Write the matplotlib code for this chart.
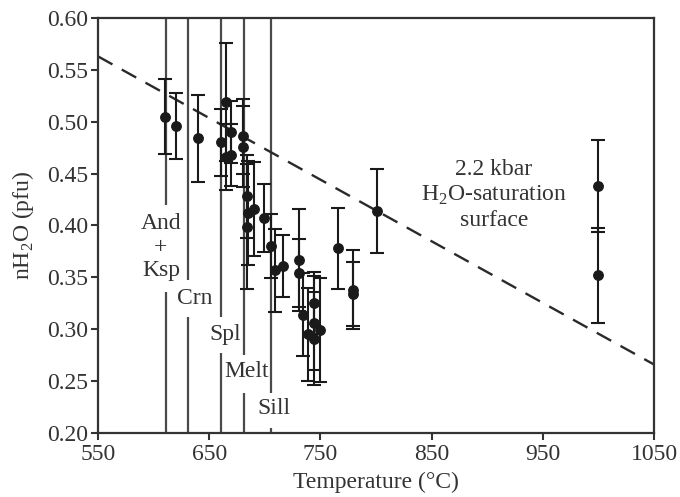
import matplotlib
matplotlib.use("Agg")
import matplotlib.pyplot as plt

plt.rcParams['font.family'] = ['Liberation Serif', 'DejaVu Serif']
plt.rcParams['mathtext.fontset'] = 'custom'
plt.rcParams['mathtext.rm'] = 'Liberation Serif'

# ---- data ----
temps = [610, 620, 639.5, 665, 660.5, 665, 670, 670, 680, 680, 684, 685, 690, 684,
         699, 706, 709, 716, 731, 731, 734, 739, 744, 744, 744, 750, 766, 779, 779,
         801, 1000, 1000]
nh2o = [0.505, 0.496, 0.484, 0.519, 0.480, 0.466, 0.490, 0.468, 0.486, 0.476, 0.428,
        0.412, 0.416, 0.399, 0.407, 0.380, 0.357, 0.361, 0.367, 0.354, 0.314, 0.295,
        0.325, 0.306, 0.291, 0.299, 0.378, 0.338, 0.334, 0.414, 0.438, 0.352]
errors = [0.036, 0.032, 0.042, 0.057, 0.0325, 0.032, 0.030, 0.030, 0.036, 0.039, 0.040,
          0.050, 0.045, 0.060, 0.033, 0.031, 0.040, 0.030, 0.049, 0.033, 0.040, 0.045,
          0.030, 0.045, 0.045, 0.050, 0.039, 0.038, 0.031, 0.0405, 0.044, 0.046]

# phase boundaries (temperature) and their labels
boundary_temps = [611, 630.5, 661, 681, 706]
boundary_labels = ['And\n+\nKsp', 'Crn', 'Spl', 'Melt', 'Sill']
label_temps = [606.6, 637.2, 664.2, 683.7, 708.3]
label_vals = [0.379, 0.330, 0.2945, 0.2588, 0.224]
gap_low = [0.336, 0.312, 0.277, 0.2386, 0.205]
gap_high = [0.420, 0.3475, 0.312, 0.275, 0.2386]

# H2O-saturation surface (dashed line)
sat_temps = [550, 1050]
sat_vals = [0.563, 0.266]

xticks = [550, 650, 750, 850, 950, 1050]
yticks = [0.20, 0.25, 0.30, 0.35, 0.40, 0.45, 0.50, 0.55, 0.60]

# ---- plot ----
fig = plt.figure(figsize=(6.8, 4.97), dpi=100)
ax = fig.add_axes([0.1441, 0.1288, 0.8177, 0.835])
ax.set_xlim(550, 1050)
ax.set_ylim(0.20, 0.60)

line_col = '#4a4a4a'
txt_col = '#333333'
fs = 17

for t, lo, hi in zip(boundary_temps, gap_low, gap_high):
    ax.vlines(t, hi, 0.60, color=line_col, lw=1.6, zorder=1)
    ax.vlines(t, 0.20, lo, color=line_col, lw=1.6, zorder=1)

for lab, lt, lv in zip(boundary_labels, label_temps, label_vals):
    ax.text(lt, lv, lab, ha='center', va='center', fontsize=fs, color=txt_col,
            linespacing=1.15, zorder=2)

ax.plot(sat_temps, sat_vals, color='#2a2a2a', lw=1.7, dashes=(7, 4.5), zorder=2)

ax.errorbar(temps, nh2o, yerr=errors, fmt='o', color='#1a1a1a', ms=6.8,
            elinewidth=1.5, capsize=5, capthick=1.5, zorder=3)

ax.text(906, 0.4294, '2.2 kbar\nH$_{\\mathregular{2}}$O-saturation\nsurface',
        ha='center', va='center', fontsize=fs, color=txt_col, linespacing=1.22)

ax.set_xticks(xticks)
ax.set_xticklabels([str(v) for v in xticks])
ax.set_yticks(yticks)
ax.set_yticklabels([f'{v:.2f}' for v in yticks])
ax.tick_params(direction='out', length=5, width=1.5, colors='#333333',
               labelsize=fs, labelcolor=txt_col)
ax.tick_params(axis='x', pad=3)
ax.tick_params(axis='y', pad=2)
for s in ax.spines.values():
    s.set_linewidth(1.6)
    s.set_color('#333333')

ax.set_xlabel('Temperature (°C)', fontsize=fs, color=txt_col, labelpad=5)
ax.set_ylabel('nH$_{\\mathregular{2}}$O (pfu)', fontsize=fs, color=txt_col, labelpad=8)

fig.savefig('out.png', dpi=100)
